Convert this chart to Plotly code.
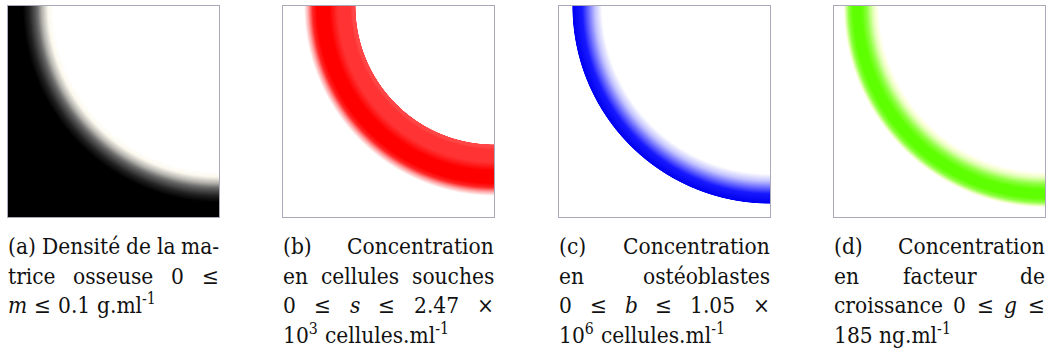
import re
import json
import numpy as np
import plotly.graph_objects as go

# ---------------------------------------------------------------------------
# Radial profiles of the four fields, as a function of the normalised
# distance r from the top-right corner of the square domain.
# ---------------------------------------------------------------------------
m_r = [0.0, 0.785, 0.81, 0.84, 0.87, 0.90, 0.93, 2.0]
m_val = [0.0, 0.0, 0.008, 0.03, 0.06, 0.085, 0.1, 0.1]          # g.ml-1
m_max = 0.1

s_r = [0.0, 0.655, 0.657, 0.67, 0.68, 0.74, 0.78, 0.84, 0.86, 0.88, 0.90, 2.0]
s_val = [0, 0, 1800, 1800, 1980, 1980, 2470, 2470, 2100, 900, 0, 0]  # cellules.ml-1
s_max = 2.47e3

b_r = [0.0, 0.795, 0.83, 0.86, 0.89, 0.935, 0.938, 2.0]
b_val = [0, 0, 0.25e6, 0.6e6, 0.95e6, 1.05e6, 0, 0]           # cellules.ml-1
b_max = 1.05e6

g_r = [0.0, 0.785, 0.815, 0.845, 0.87, 0.91, 0.93, 0.955, 2.0]
g_val = [0, 0, 50, 140, 185, 185, 140, 0, 0]                    # ng.ml-1
g_max = 185

# Colour maps of the four panels
cmap_m = [[0, "#ffffff"], [0.08, "#fbf9ee"], [0.5, "#6e6e6e"], [1, "#000000"]]
cmap_s = [[0, "#ffffff"], [1, "#ff0000"]]
cmap_b = [[0, "#ffffff"], [0.9, "#1a1aff"], [1, "#0000f0"]]
cmap_g = [[0, "#ffffff"], [0.12, "#fdffe0"], [0.45, "#c4ff8a"], [1, "#5eff00"]]

# Caption lines: tokens per line, last line of each caption is ragged
captions = [
    [["(a)", "Densité", "de", "la", "ma-"],
     ["trice", "osseuse", "0", "≤"],
     ["<i>m</i>", "≤", "0.1", "g.ml<sup>-1</sup>"]],
    [["(b)", "Concentration"],
     ["en", "cellules", "souches"],
     ["0", "≤", "<i>s</i>", "≤", "2.47", "×"],
     ["10<sup>3</sup>", "cellules.ml<sup>-1</sup>"]],
    [["(c)", "Concentration"],
     ["en", "ostéoblastes"],
     ["0", "≤", "<i>b</i>", "≤", "1.05", "×"],
     ["10<sup>6</sup>", "cellules.ml<sup>-1</sup>"]],
    [["(d)", "Concentration"],
     ["en", "facteur", "de"],
     ["croissance", "0", "≤", "<i>g</i>", "≤"],
     ["185", "ng.ml<sup>-1</sup>"]],
]

# ---------------------------------------------------------------------------
W, H = 1051, 356
panel_left = [8, 283, 559, 834]
panel_size = 211
panel_top, panel_bottom = 6, 217.3
FS = 22.5
FONT = "DejaVu Serif Condensed, DejaVu Serif, serif"
baseline0, line_step = 253.5, 29.8

N = 211
xc = (np.arange(N) + 0.5) / N
X, Y = np.meshgrid(xc, xc)
R = np.hypot(1 - X, 1 - Y)

fields = [
    (m_r, m_val, m_max, cmap_m),
    (s_r, s_val, s_max, cmap_s),
    (b_r, b_val, b_max, cmap_b),
    (g_r, g_val, g_max, cmap_g),
]

fig = go.Figure()
for k, (rr, vv, vmax, cmap) in enumerate(fields):
    z = np.interp(R, rr, vv)
    ax = "" if k == 0 else str(k + 1)
    fig.add_trace(go.Heatmap(
        z=z, x0=0.5 / N, dx=1 / N, y0=0.5 / N, dy=1 / N,
        zmin=0, zmax=vmax, colorscale=cmap, showscale=False,
        zsmooth=False, hoverinfo="skip",
        xaxis="x" + ax, yaxis="y" + ax,
    ))
    axis_common = dict(range=[0, 1], showgrid=False, zeroline=False,
                       showticklabels=False, ticks="", showline=True,
                       mirror=True, linecolor="#aba9b9", linewidth=1)
    x0 = panel_left[k] / W
    x1 = (panel_left[k] + panel_size) / W
    fig.update_layout(**{
        "xaxis" + ax: dict(domain=[x0, x1], anchor="y" + ax, **axis_common),
        "yaxis" + ax: dict(domain=[1 - panel_bottom / H, 1 - panel_top / H],
                           anchor="x" + ax, **axis_common),
    })

# ---------------------------------------------------------------------------
# Captions: one annotation per word; first guess from Times-like widths,
# then justified in the page with the measured word widths.
ROMAN = {" ": 250, "(": 333, ")": 333, ".": 250, "-": 333, "C": 667, "D": 722,
         "a": 444, "b": 500, "c": 444, "d": 500, "e": 444, "f": 333, "g": 500,
         "h": 500, "i": 278, "l": 278, "m": 778, "n": 500, "o": 500, "r": 333,
         "s": 389, "t": 278, "u": 500, "x": 500, "é": 444, "≤": 549, "×": 564}
ITALIC = {"m": 722, "s": 389, "b": 500, "g": 500}
EST_FS = 25


def token_width(tok):
    w = 0.0
    for mt in re.finditer(r"<sup>(.*?)</sup>|<i>(.*?)</i>|([^<]+)", tok):
        if mt.group(1) is not None:
            w += 0.7 * sum(ROMAN.get(c, 500) for c in mt.group(1))
        elif mt.group(2) is not None:
            w += sum(ITALIC.get(c, 500) for c in mt.group(2))
        else:
            w += sum(ROMAN.get(c, 500) for c in mt.group(3))
    return w * EST_FS / 1000


SPACE = 0.27 * EST_FS
annotations = []
line_specs = []
for k, lines in enumerate(captions):
    left = panel_left[k]
    right = left + panel_size
    for li, toks in enumerate(lines):
        widths = [token_width(t) for t in toks]
        last = li == len(lines) - 1
        just = (not last) and len(toks) > 1
        gap = (panel_size - sum(widths)) / (len(toks) - 1) if just else SPACE
        base = baseline0 + li * line_step
        ypaper = 1 - (base + 7.3) / H
        xpos = left
        idx = []
        for t, w in zip(toks, widths):
            idx.append(len(annotations))
            annotations.append(dict(
                x=(xpos - 2) / W, xanchor="left", y=ypaper, yanchor="bottom",
                xref="paper", yref="paper", text=t, showarrow=False,
                font=dict(family=FONT, size=FS, color="#111111")))
            xpos += w + gap
        line_specs.append(dict(idx=idx, left=left, right=right, just=just,
                               space=SPACE))

fig.update_layout(
    width=W, height=H, margin=dict(l=0, r=0, t=0, b=0),
    paper_bgcolor="white", plot_bgcolor="white",
    annotations=annotations, showlegend=False,
)

justify_js = """
(function () {
  var gd = document.getElementById('{plot_id}');
  var LINES = __LINES__;
  var TOTAL = __TOTAL__;
  var W = __W__;
  var done = false;
  function run() {
    var upd = {};
    LINES.forEach(function (L) {
      var ws = L.idx.map(function (i) {
        var t = gd.querySelector('.annotation[data-index="' + i + '"] .annotation-text');
        return t ? t.getBBox().width : 0;
      });
      var tot = ws.reduce(function (a, b) { return a + b; }, 0);
      var gap = L.just ? (L.right - L.left - tot) / (L.idx.length - 1) : L.space;
      var x = L.left;
      L.idx.forEach(function (i, j) {
        upd['annotations[' + i + '].x'] = (x - 2) / W;
        x += ws[j] + gap;
      });
    });
    Plotly.relayout(gd, upd);
  }
  function tryRun() {
    if (done) return;
    if (gd.querySelectorAll('.annotation').length < TOTAL) {
      setTimeout(tryRun, 20);
      return;
    }
    done = true;
    run();
  }
  tryRun();
})();
"""
justify_js = (justify_js.replace("__LINES__", json.dumps(line_specs))
              .replace("__TOTAL__", str(len(annotations)))
              .replace("__W__", str(W)))

fig.write_html("out.html", config={"displayModeBar": False},
               post_script=justify_js)
